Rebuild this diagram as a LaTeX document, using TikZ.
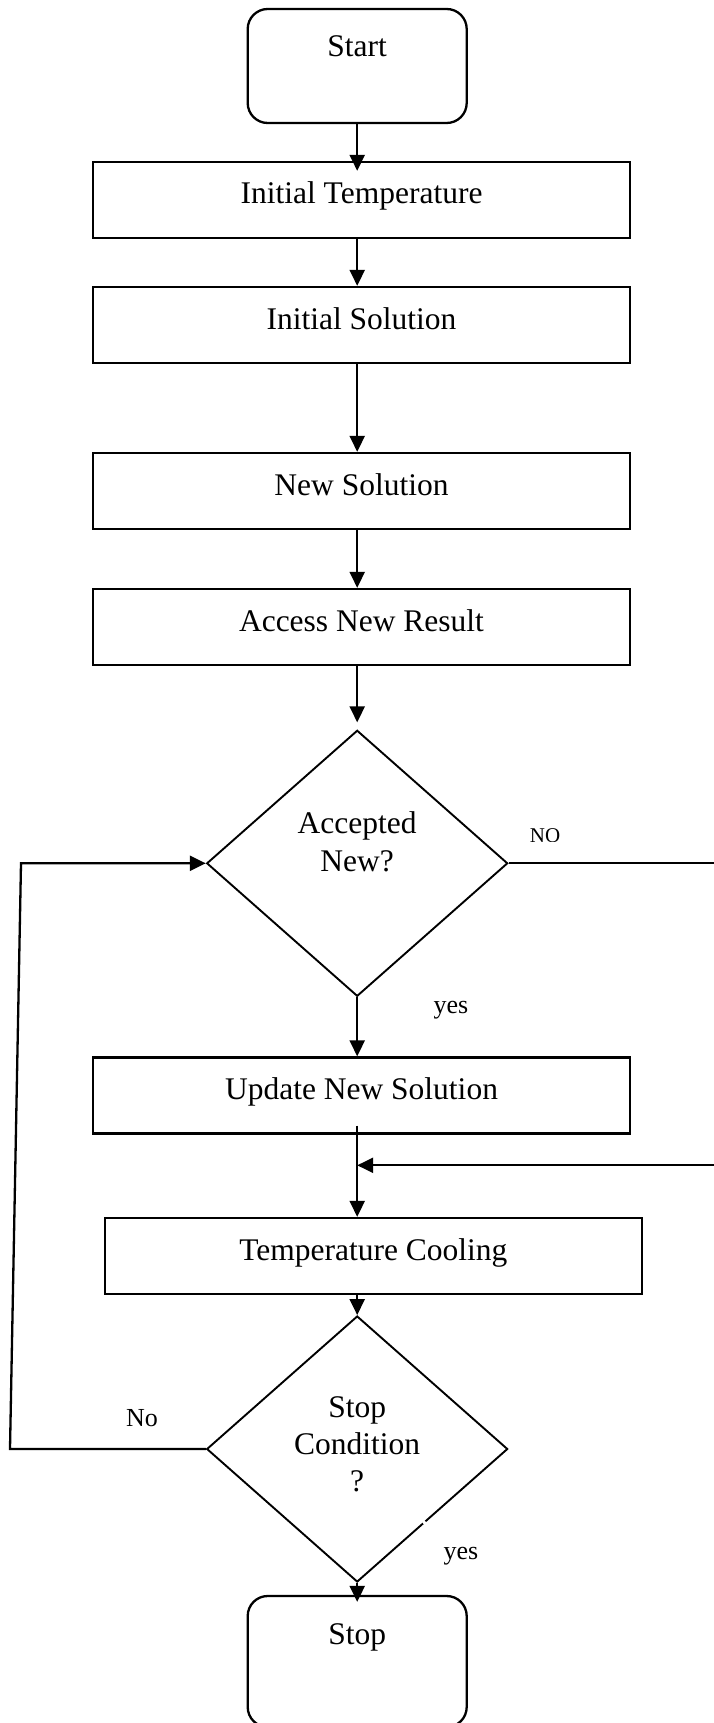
\documentclass[tikz,border=0pt]{standalone}
\usepackage{fontspec}
\setmainfont{Liberation Serif}
\usetikzlibrary{shapes.geometric,arrows.meta}

\newcommand{\mainsz}{\fontsize{31.5}{38}\selectfont}
\newcommand{\condsz}{\fontsize{31.5}{37}\selectfont}
\newcommand{\tagsz}{\fontsize{26}{30}\selectfont}
\newcommand{\nosz}{\fontsize{21}{24}\selectfont}

\tikzset{
  stepbox/.style={draw, line width=2.3pt, minimum width=537pt, inner sep=0pt,
    text height=42pt, text depth=34pt, font=\mainsz},
  terminal/.style={draw, line width=2.3pt, rounded corners=20pt, minimum width=219pt,
    inner sep=0pt, font=\mainsz},
  decision/.style={diamond, draw, line width=1.9pt, minimum width=301pt,
    minimum height=266pt, inner sep=0pt},
  dtext/.style={align=center, inner sep=0pt},
  flow/.style={-{Triangle[length=16pt,width=15pt]}, line width=2.3pt},
  wire/.style={line width=2.3pt},
  tag/.style={font=\tagsz, inner sep=0pt}
}

\begin{document}
\begin{tikzpicture}[x=1pt, y=-1pt]
  \useasboundingbox (0,0) rectangle (713,1723);

  % terminals and process steps
  \node[terminal, text height=48pt, text depth=66pt] (start) at (357.2,66) {Start};
  \node[stepbox] (it)  at (361.5,200)   {Initial Temperature};
  \node[stepbox] (is)  at (361.5,325)   {Initial Solution};
  \node[stepbox] (ns)  at (361.5,491)   {New Solution};
  \node[stepbox] (anr) at (361.5,627)   {Access New Result};
  \node[decision] (acc) at (357.2,863.3) {};
  \node[dtext, font=\mainsz] (acct) at (357.2,842) {Accepted\\New?};
  \node[stepbox] (uns) at (361.5,1095.5) {Update New Solution};
  \node[stepbox] (tc)  at (373.4,1256)  {Temperature Cooling};
  \node[decision] (sc) at (357.2,1449) {};
  \node[dtext, font=\condsz] (sct) at (357.2,1444) {Stop\\Condition\\?};
  \node[terminal, text height=48pt, text depth=83pt] (stop) at (357.2,1661.5) {Stop};

  % main downward flow
  \draw[flow, shorten >=-10pt] (start.south) -- (start.south |- it.north);
  \draw[flow] (start.south |- it.south) -- (start.south |- is.north);
  \draw[flow] (start.south |- is.south) -- (start.south |- ns.north);
  \draw[flow] (start.south |- ns.south) -- (start.south |- anr.north);
  \draw[flow, shorten >=7pt] (start.south |- anr.south) -- (acc.north);
  \draw[flow] (acc.south) -- (acc.south |- uns.north);
  \draw[flow, shorten <=-9pt] (acc.south |- uns.south) -- (acc.south |- tc.north);
  \draw[flow] (acc.south |- tc.south) -- (sc.north);
  \draw[flow, shorten >=-7pt] (sc.south) -- (stop.north);

  % "NO" branch: out to the right and back into the cooling step
  \coordinate (rt) at (728,863.3);
  \coordinate (rb) at (728,1165.3);
  \coordinate (merge) at (357.2,1165.3);
  \draw[wire] (acc.east) -- (rt) -- (rb);
  \draw[flow] (rb) -- (merge);

  % "No" loop back to the acceptance test
  \coordinate (lb) at (10,1449);
  \coordinate (lt) at (21,863.3);
  \draw[flow] (sc.west) -- (lb) -- (lt) -- (acc.west);

  % branch labels
  \begin{scope}
    \clip (500,800) rectangle (600,841.5);
    \node[font=\nosz, inner sep=0pt] (nolbl) at (545,836) {NO};
  \end{scope}
  \node[tag] (yes1) at (451,1010) {yes};
  \node[tag] (no2)  at (142,1418) {No};
  \node[tag] (yes2) at (461,1556) {yes};

  % small break in the lower right edge of the stop test
  \draw[white, line width=3pt] (420.9,1518.5) -- (426.1,1524.5);
\end{tikzpicture}
\end{document}
